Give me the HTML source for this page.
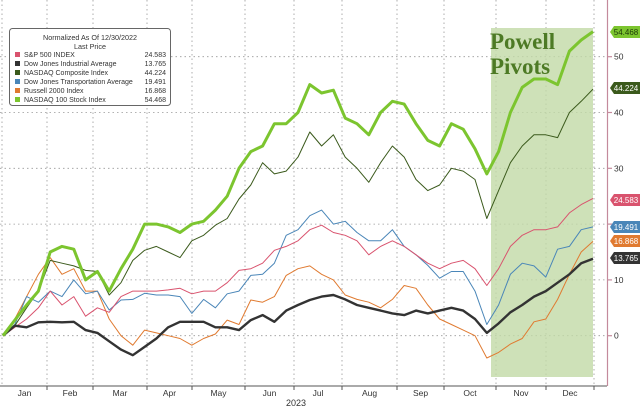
<!DOCTYPE html>
<html><head><meta charset="utf-8">
<style>
body{margin:0;background:#fff;}
svg{display:block;font-family:"Liberation Sans",sans-serif;}
</style></head>
<body>
<svg id="chart" width="640" height="409" viewBox="0 0 640 409" xmlns="http://www.w3.org/2000/svg">
<g id="grid"></g>
<rect x="491" y="28" width="102" height="349" fill="#c2d9a6" opacity="0.8"/>
<g id="lines"></g>
<text x="490" y="49" font-family="Liberation Serif,serif" font-weight="bold" font-size="23" fill="#4d7a25">Powell</text>
<text x="490" y="74" font-family="Liberation Serif,serif" font-weight="bold" font-size="23" fill="#4d7a25">Pivots</text>
<line x1="0" y1="386" x2="607" y2="386" stroke="#555" stroke-width="1"/>
<line x1="607.5" y1="0" x2="607.5" y2="386" stroke="#c48a9c" stroke-width="1.2"/>
<g id="xaxis"></g>
<g id="yaxis"></g>
<text x="296" y="406" font-size="9" fill="#333" text-anchor="middle">2023</text>
<g>
<rect x="9.5" y="28.5" width="161" height="77" rx="3" fill="#fff" stroke="#666" stroke-width="1"/>
<text x="90" y="40" font-size="7.2" text-anchor="middle" fill="#333">Normalized As Of 12/30/2022</text>
<text x="90" y="49" font-size="7.2" text-anchor="middle" fill="#333">Last Price</text>
<g id="legend-items"></g>
</g>
</svg>
<script>
const names = ["S&P 500 INDEX","Dow Jones Industrial Average","NASDAQ Composite Index","Dow Jones Transportation Average","Russell 2000 Index","NASDAQ 100 Stock Index"];
const lastPrices = ["24.583","13.765","44.224","19.491","16.868","54.468"];
const months = ["Jan","Feb","Mar","Apr","May","Jun","Jul","Aug","Sep","Oct","Nov","Dec"];
const yTicks = [0,10,20,30,40,50];
const spx = [0,1.5,3,5,8,5.5,7,3.5,5,4.2,7,8,8,8,8.2,8.5,7.5,8,8,9.5,11.7,12,13,15.3,16,17,19,19.8,18.5,18,17,14.5,16,17,16,14.5,13,12,13,13.5,12,9,12,16,18,19,19,19.5,22,23.5,24.6];
const dow = [0,1.8,1.5,2.4,2.5,2.4,2.5,1,0.5,-1,-2.5,-3.5,-2,-0.5,1.5,2.5,2.5,2.5,1.5,1.5,1,2.8,3.7,2.5,4.5,5.5,6.4,7,7.3,6.5,5.5,5,4.5,4,3.7,4.5,4,4.5,5,4.5,3,0.5,2.2,4.2,5.5,7,8,9.5,11,13,13.8];
const ccmp = [0,1.8,5,8,13.5,13,12.5,11.7,11.5,7.3,9.5,13.5,15.3,16,15,14,17,18,19.8,21,24.5,27,31,29,29.5,32,36.5,34,36,32,30,27.5,31,34,32,28,26,27,30,29.5,28,21,26,31,34,36,36,35.5,40,42,44.2];
const tran = [0,2,7,6,8,7,10,7.5,8,4.6,6.4,6.5,7.6,7.3,7.3,7,4,6.5,5,7.5,8,10.8,11,13,18,19,21.5,22.5,20,20.5,18.5,17,17,19,16,14.5,12.6,10.3,11.5,11.5,8,2,5.5,11,13,12.5,10.5,15.5,16,19,19.5];
const rty = [0,3,7,11,14,11,12,8,8,3,0,-1.7,1,0.5,0,-0.5,-1.7,-0.5,0.3,2.8,2,6.4,6,7,10.8,12,12.5,11,10,7.3,6.5,6,5,6.5,9,8.5,5.5,3,2,1,0,-4,-3,-1.5,-0.5,2.5,3,6.5,11,15,16.9];
const ndx = [0,2.8,5.5,8,15,16,15.5,10,11.5,8,12,15.5,20,20,19.5,18.5,20,20.5,22.5,25,30,33,34,38,38,40,45,43.5,44,39,38,36,40,42,41.5,38,35,34,38,37,33.5,29,33,40,44.5,46,46,45,51,53,54.5];

const colors = ["#d9536e","#333333","#3b5a1c","#4a86b8","#e07a30","#7cc52f"];
const widths = [1,2.4,1,1,1,3];
const series = [spx,dow,ccmp,tran,rty,ndx];
const labelY = [200,258,88,227,241,32];
const NS = "http://www.w3.org/2000/svg";
const X0 = 3, X1 = 593;
const yPx = v => 335.7 - v * 5.58;
const xPx = (i, n) => X0 + (X1 - X0) * i / (n - 1);
function mk(tag, attrs, parent){const e=document.createElementNS(NS,tag);for(const k in attrs)e.setAttribute(k,attrs[k]);parent.appendChild(e);return e;}

const grid = document.getElementById('grid');
yTicks.forEach(t=>{
  const l = mk('line',{x1:0,x2:607,y1:yPx(t),y2:yPx(t),stroke:'#999','stroke-width':0.8,'stroke-dasharray':'1.5,3'},grid);
  
  
});
const bounds = [2,47,93,147,192,245,294,342,397,444,496,546,594];
bounds.forEach(b=>{
  const l = mk('line',{x1:b,x2:b,y1:0,y2:386,stroke:'#999','stroke-width':0.8,'stroke-dasharray':'1.5,3'},grid);
  
  
});
const xa = document.getElementById('xaxis');
months.forEach((m,i)=>{
  const cx = (bounds[i]+bounds[i+1])/2;
  const t = mk('text',{x:cx,y:396,'font-size':8.5,fill:'#333','text-anchor':'middle'},xa);
  t.textContent = m;
  
  
  const tk = mk('line',{x1:bounds[i+1],x2:bounds[i+1],y1:386,y2:390,stroke:'#555'},xa);
  
  
});
const ya = document.getElementById('yaxis');
yTicks.forEach(t=>{
  const tk = mk('line',{x1:607,x2:612,y1:yPx(t),y2:yPx(t),stroke:'#c48a9c','stroke-width':1.2},ya);
  
  
  const tx = mk('text',{x:614,y:yPx(t)+3,'font-size':8.5,fill:'#333'},ya);
  tx.textContent = t;
  
  
});
const lines = document.getElementById('lines');
const order = [4,3,0,2,1,5];
order.forEach(s=>{
  const d = series[s].map((v,i)=>(i?'L':'M')+xPx(i,series[s].length).toFixed(1)+','+yPx(v).toFixed(1)).join(' ');
  const p = mk('path',{d:d,fill:'none',stroke:colors[s],'stroke-width':widths[s],'stroke-linejoin':'round'},lines);
  
  
});
series.forEach((arr,s)=>{
  const y = labelY[s];
  const g = mk('g',{},ya);
  
  
  mk('path',{d:`M610,${y} L614,${y-6} L640,${y-6} L640,${y+6} L614,${y+6} Z`,fill:colors[s]},g);
  const t = mk('text',{x:626,y:y+3,'font-size':8,fill:s==5?'#1d3a08':'#fff','text-anchor':'middle'},g);
  t.textContent = lastPrices[s];
});
const li = document.getElementById('legend-items');
names.forEach((n,i)=>{
  const y = 55 + i*9;
  const g = mk('g',{},li);
  
  
  mk('rect',{x:15,y:y-3,width:5,height:5,fill:colors[i]},g);
  const t = mk('text',{x:24,y:y+2,'font-size':7,fill:'#333'},g);
  t.textContent = n;
  const v = mk('text',{x:166,y:y+2,'font-size':7,fill:'#333','text-anchor':'end'},g);
  v.textContent = lastPrices[i];
});
</script>
</body></html>
